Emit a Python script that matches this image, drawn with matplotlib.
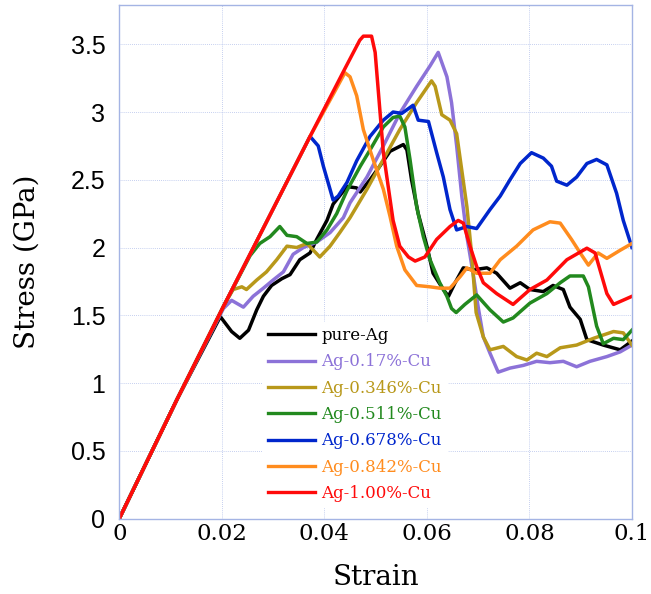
import numpy as np
import matplotlib
matplotlib.use("Agg")
import matplotlib.pyplot as plt

# --- stress-strain curves, Ag / Ag-Cu ---

labels = ["pure-Ag", "Ag-0.17%-Cu", "Ag-0.346%-Cu", "Ag-0.511%-Cu",
          "Ag-0.678%-Cu", "Ag-0.842%-Cu", "Ag-1.00%-Cu"]
colors = ["#000000", "#8c72d8", "#b8981a", "#22891e",
          "#0026cc", "#ff8c1e", "#ff0a0a"]

strain_ag = [0, 0.0112, 0.0197, 0.0219, 0.0235, 0.0252, 0.0268, 0.0281, 0.0297, 0.0317,
             0.0333, 0.0352, 0.0372, 0.0385, 0.0405, 0.0417, 0.0444, 0.0463, 0.047, 0.0489,
             0.0508, 0.0528, 0.0554, 0.0561, 0.057, 0.0583, 0.06, 0.0612, 0.0632, 0.0642,
             0.0655, 0.0671, 0.069, 0.0717, 0.0736, 0.0762, 0.0782, 0.0801, 0.0827, 0.0846,
             0.0866, 0.0879, 0.0899, 0.0912, 0.0944, 0.0977, 0.1]
stress_ag = [0, 0.875, 1.49, 1.38, 1.33, 1.39, 1.54, 1.64, 1.72, 1.77,
             1.80, 1.91, 1.96, 2.06, 2.20, 2.32, 2.45, 2.44, 2.41, 2.50,
             2.60, 2.71, 2.76, 2.72, 2.50, 2.25, 2.01, 1.81, 1.69, 1.64,
             1.74, 1.85, 1.835, 1.85, 1.81, 1.70, 1.74, 1.69, 1.675, 1.72,
             1.69, 1.56, 1.47, 1.32, 1.28, 1.245, 1.31]

strain_017 = [0, 0.0112, 0.0203, 0.0219, 0.0242, 0.0261, 0.0281, 0.03, 0.032, 0.0339,
              0.0359, 0.0385, 0.0411, 0.0437, 0.045, 0.0483, 0.0515, 0.0547, 0.058, 0.0606,
              0.0622, 0.0639, 0.0648, 0.0658, 0.0668, 0.0678, 0.069, 0.07, 0.071, 0.0723,
              0.0739, 0.0762, 0.0788, 0.0814, 0.084, 0.0866, 0.0892, 0.0918, 0.0951, 0.0977, 0.1]
stress_017 = [0, 0.875, 1.55, 1.61, 1.56, 1.64, 1.70, 1.76, 1.82, 1.95,
              2.00, 2.04, 2.11, 2.22, 2.33, 2.52, 2.75, 2.99, 3.19, 3.34,
              3.44, 3.26, 3.07, 2.75, 2.38, 2.08, 1.81, 1.56, 1.34, 1.22,
              1.08, 1.11, 1.13, 1.16, 1.15, 1.16, 1.12, 1.16, 1.195, 1.23, 1.28]

strain_0346 = [0, 0.0112, 0.0205, 0.0222, 0.0239, 0.0248, 0.0268, 0.0287, 0.0307, 0.0327,
               0.0346, 0.0366, 0.0391, 0.0411, 0.043, 0.045, 0.0483, 0.0515, 0.0547, 0.058,
               0.0609, 0.0616, 0.0629, 0.0645, 0.0658, 0.0668, 0.0678, 0.0687, 0.0696, 0.071,
               0.0723, 0.0749, 0.0775, 0.0795, 0.0814, 0.0834, 0.086, 0.0892, 0.0925, 0.0964,
               0.0983, 0.1]
stress_0346 = [0, 0.875, 1.58, 1.69, 1.71, 1.69, 1.76, 1.82, 1.91, 2.01,
               2.00, 2.03, 1.93, 2.01, 2.11, 2.22, 2.43, 2.65, 2.87, 3.07,
               3.23, 3.19, 2.98, 2.94, 2.84, 2.57, 2.30, 1.96, 1.52, 1.34,
               1.245, 1.27, 1.195, 1.17, 1.22, 1.195, 1.26, 1.28, 1.33, 1.38,
               1.37, 1.28]

strain_0511 = [0, 0.0112, 0.0203, 0.0255, 0.0274, 0.0294, 0.0313, 0.0327, 0.0346, 0.0366,
               0.0385, 0.0405, 0.0424, 0.0444, 0.047, 0.0489, 0.0515, 0.0534, 0.0547, 0.0557,
               0.0567, 0.058, 0.0593, 0.0606, 0.0625, 0.0639, 0.0648, 0.0657, 0.0674, 0.0697,
               0.0723, 0.0749, 0.0768, 0.0801, 0.0834, 0.086, 0.0879, 0.0905, 0.0915, 0.0931,
               0.0944, 0.0964, 0.0983, 0.1]
stress_0511 = [0, 0.875, 1.564, 1.94, 2.03, 2.08, 2.155, 2.09, 2.08, 2.03,
               2.04, 2.13, 2.25, 2.42, 2.60, 2.72, 2.89, 2.96, 2.97, 2.89,
               2.65, 2.30, 2.08, 1.91, 1.74, 1.64, 1.55, 1.52, 1.58, 1.65,
               1.54, 1.45, 1.48, 1.59, 1.66, 1.74, 1.79, 1.79, 1.71, 1.42,
               1.29, 1.33, 1.32, 1.39]

strain_0678 = [0, 0.0112, 0.0203, 0.03, 0.0372, 0.0388, 0.0398, 0.0411, 0.0417, 0.0427,
               0.0444, 0.0463, 0.0489, 0.0515, 0.0534, 0.0551, 0.0573, 0.0583, 0.0603, 0.0619,
               0.0632, 0.0645, 0.0658, 0.0678, 0.0697, 0.0723, 0.0743, 0.0762, 0.0782, 0.0804,
               0.0827, 0.0843, 0.0853, 0.0873, 0.0892, 0.0912, 0.0931, 0.0951, 0.097, 0.0983, 0.1]
stress_0678 = [0, 0.875, 1.564, 2.285, 2.82, 2.75, 2.60, 2.43, 2.35, 2.38,
               2.48, 2.64, 2.82, 2.94, 3.00, 2.99, 3.05, 2.94, 2.93, 2.70,
               2.52, 2.28, 2.13, 2.155, 2.14, 2.28, 2.38, 2.50, 2.62, 2.70,
               2.66, 2.60, 2.49, 2.46, 2.52, 2.62, 2.65, 2.61, 2.40, 2.20, 2.00]

strain_0842 = [0, 0.0112, 0.0203, 0.03, 0.0372, 0.042, 0.044, 0.045, 0.0463, 0.0476,
               0.0495, 0.0515, 0.0528, 0.0541, 0.0557, 0.058, 0.0606, 0.0625, 0.0645, 0.0665,
               0.0678, 0.0697, 0.0723, 0.0743, 0.0775, 0.0807, 0.084, 0.086, 0.0882, 0.0899,
               0.0915, 0.0934, 0.0951, 0.0977, 0.1]
stress_0842 = [0, 0.875, 1.564, 2.285, 2.82, 3.15, 3.29, 3.26, 3.12, 2.87,
               2.65, 2.43, 2.23, 2.01, 1.835, 1.72, 1.71, 1.70, 1.70, 1.786,
               1.85, 1.81, 1.81, 1.91, 2.01, 2.13, 2.19, 2.18, 2.06, 1.96,
               1.87, 1.96, 1.92, 1.98, 2.03]

strain_100 = [0, 0.0112, 0.0203, 0.03, 0.0372, 0.044, 0.0469, 0.0476, 0.0492, 0.0499,
              0.0515, 0.0534, 0.0547, 0.0564, 0.0577, 0.0596, 0.0619, 0.0645, 0.0661, 0.0671,
              0.0684, 0.0697, 0.071, 0.0736, 0.0768, 0.0801, 0.0834, 0.0873, 0.0912, 0.0928,
              0.0951, 0.0964, 0.1]
stress_100 = [0, 0.875, 1.564, 2.285, 2.82, 3.32, 3.53, 3.56, 3.56, 3.44,
              2.70, 2.20, 2.01, 1.93, 1.90, 1.93, 2.06, 2.155, 2.20, 2.18,
              2.01, 1.86, 1.74, 1.66, 1.58, 1.69, 1.76, 1.91, 1.995, 1.96,
              1.66, 1.58, 1.64]

strains = [strain_ag, strain_017, strain_0346, strain_0511, strain_0678, strain_0842, strain_100]
stresses = [stress_ag, stress_017, stress_0346, stress_0511, stress_0678, stress_0842, stress_100]

x_ticks = [0, 0.02, 0.04, 0.06, 0.08, 0.1]
x_ticklabels = ["0", "0.02", "0.04", "0.06", "0.08", "0.1"]
y_ticks = [0, 0.5, 1, 1.5, 2, 2.5, 3, 3.5]
y_ticklabels = ["0", "0.5", "1", "1.5", "2", "2.5", "3", "3.5"]

serif = "DejaVu Serif"
sans = "Liberation Sans"
grid_col = "#b2c0ea"

fig = plt.figure(figsize=(6.51, 5.94), dpi=100)
ax = fig.add_axes([0.1833, 0.1271, 0.7875, 0.8645])

for s, t, c, lab in zip(strains, stresses, colors, labels):
    ax.plot(s, t, color=c, lw=2.5, label=lab, solid_joinstyle="round")

ax.set_xlim(0, 0.1)
ax.set_ylim(0, 3.79)
ax.set_xticks(x_ticks)
ax.set_xticklabels(x_ticklabels, fontfamily=serif, fontsize=16.5)
ax.set_yticks(y_ticks)
ax.set_yticklabels(y_ticklabels, fontfamily=sans, fontsize=18)
ax.tick_params(length=0)
ax.tick_params(axis="x", pad=3)
ax.tick_params(axis="y", pad=10)
ax.grid(True, color=grid_col, ls=(0, (1, 1.5)), lw=0.6)
ax.set_axisbelow(True)
for sp in ax.spines.values():
    sp.set_color("#a4b4e4")
    sp.set_linewidth(1.0)

ax.set_xlabel("Strain", fontfamily=serif, fontsize=20, labelpad=14)
ax.set_ylabel("Stress (GPa)", fontfamily=serif, fontsize=20, labelpad=22)

leg = ax.legend(loc="lower left", bbox_to_anchor=(0.264, 0.006), frameon=True,
                fancybox=False, edgecolor="white", facecolor="white", framealpha=1,
                prop={"family": serif, "size": 12}, labelcolor="linecolor",
                handlelength=2.8, handletextpad=0.4, labelspacing=0.56, borderpad=0.3)
for h in leg.get_lines():
    h.set_linewidth(2.4)

fig.savefig("out.png", dpi=100)
